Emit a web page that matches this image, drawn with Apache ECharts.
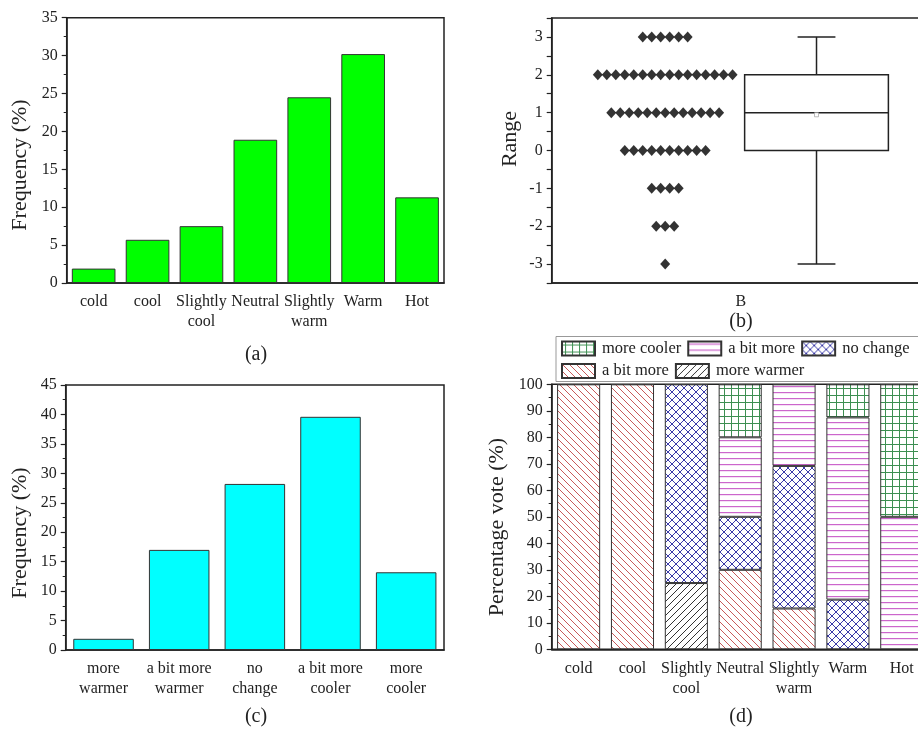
<!DOCTYPE html>
<html>
<head>
<meta charset="utf-8">
<script src="https://cdn.jsdelivr.net/npm/echarts@6/dist/echarts.min.js"></script>
<style>html,body{margin:0;padding:0;background:#fff;}#main{width:918px;height:729px;}</style>
</head>
<body>
<div id="main"></div>
<script>
// ---------- data ----------
const sensationCats = ['cold', 'cool', 'Slightly\ncool', 'Neutral', 'Slightly\nwarm', 'Warm', 'Hot'];
const sensationFreq = [1.9, 5.7, 7.5, 18.9, 24.5, 30.2, 11.3];

const rangeValues = [3, 2, 1, 0, -1, -2, -3];
const rangeCounts = [6, 16, 13, 10, 4, 3, 1];
const boxStats = [-3, 0, 1, 2, 3]; // min, Q1, median, Q3, max
const boxCategory = ['B'];

const prefCats = ['more\nwarmer', 'a bit more\nwarmer', 'no\nchange', 'a bit more\ncooler', 'more\ncooler'];
const prefFreq = [1.9, 17.0, 28.2, 39.6, 13.2];

const voteMoreWarmer = [0, 0, 25, 0, 0, 0, 0];
const voteBitWarmer = [100, 100, 0, 30, 15.4, 0, 0];
const voteNoChange = [0, 0, 75, 20, 53.8, 18.75, 0];
const voteBitCooler = [0, 0, 0, 30, 30.8, 68.75, 50];
const voteMoreCooler = [0, 0, 0, 20, 0, 12.5, 50];

const yTicksA = [0, 35, 5];
const yTicksB = [-3.5, 3.5];
const yTicksC = [0, 45, 5];
const yTicksD = [0, 100, 10];

// ---------- style helpers ----------
const FONT = '"Liberation Serif", "DejaVu Serif", serif';
const TXT = '#222';
const AX = '#222';

function makePattern(size, color, draw) {
  const c = document.createElement('canvas');
  c.width = size; c.height = size;
  const ctx = c.getContext('2d');
  ctx.fillStyle = '#fff';
  ctx.fillRect(0, 0, size, size);
  ctx.strokeStyle = color;
  ctx.fillStyle = color;
  ctx.lineWidth = 1;
  draw(ctx, size);
  return { image: c, repeat: 'repeat' };
}
function back(ctx, s) { ctx.beginPath(); for (const o of [-s, 0, s]) { ctx.moveTo(o, 0); ctx.lineTo(o + s, s); } ctx.stroke(); }
function fwd(ctx, s) { ctx.beginPath(); for (const o of [-s, 0, s]) { ctx.moveTo(o, s); ctx.lineTo(o + s, 0); } ctx.stroke(); }

const patBitWarmer = makePattern(7, '#c85a5a', back);
const patMoreWarmer = makePattern(7, '#333333', fwd);
const patNoChange = makePattern(8, '#3a3aa8', (ctx, s) => { back(ctx, s); fwd(ctx, s); });
const patBitCooler = makePattern(6, '#cc66cc', (ctx, s) => { ctx.fillRect(0, 2, s, 1.2); });
const patMoreCooler = makePattern(7, '#3d8f52', (ctx, s) => { ctx.fillRect(0, 3, s, 1); ctx.fillRect(3, 0, 1, s); });

// ---------- derived scatter (dot-plot layout) ----------
const dotCenter = 0.6, dotStep = 0.0475;
const dotData = [];
rangeValues.forEach((v, r) => {
  const n = rangeCounts[r];
  for (let i = 0; i < n; i++) dotData.push([dotCenter + (i - (n - 1) / 2) * dotStep, v]);
});
let sum = 0, cnt = 0;
rangeValues.forEach((v, r) => { sum += v * rangeCounts[r]; cnt += rangeCounts[r]; });
const boxMean = sum / cnt;
const boxX = 1.4, boxHalf = 0.38, capHalf = 0.1;

// ---------- axis builders ----------
function catAxis(grid, data, extra) {
  return Object.assign({
    type: 'category', gridIndex: grid, data: data,
    axisLine: { onZero: false, lineStyle: { color: AX, width: 1.5 } },
    axisTick: { alignWithLabel: true, length: 5, lineStyle: { color: AX, width: 1.2 } },
    axisLabel: { interval: 0, color: TXT, fontFamily: FONT, fontSize: 16, lineHeight: 20, margin: 9 },
    splitLine: { show: false }
  }, extra || {});
}
function valAxis(grid, min, max, interval, extra) {
  return Object.assign({
    type: 'value', gridIndex: grid, min: min, max: max, interval: interval,
    axisLine: { show: true, onZero: false, lineStyle: { color: AX, width: 1.5 } },
    axisTick: { show: true, length: 5, lineStyle: { color: AX, width: 1.2 } },
    minorTick: { show: true, splitNumber: 2, length: 3, lineStyle: { color: AX, width: 1 } },
    axisLabel: { color: TXT, fontFamily: FONT, fontSize: 16, margin: 9 },
    splitLine: { show: false }, minorSplitLine: { show: false }
  }, extra || {});
}

const gridBase = { show: true, borderColor: AX, borderWidth: 1.5, backgroundColor: 'transparent', outerBoundsMode: 'none', containLabel: false };

function vote(arr) { return arr.map(v => v === 0 ? '-' : v); }
function voteSeries(name, data, pat) {
  return {
    name: name, type: 'bar', stack: 'd', xAxisIndex: 4, yAxisIndex: 3,
    barCategoryGap: '20%', data: vote(data),
    itemStyle: { color: pat, borderColor: '#333', borderWidth: 1 },
    emphasis: { disabled: true }
  };
}

const legendCommon = {
  icon: 'rect', itemWidth: 33, itemHeight: 14, itemGap: 6, padding: 0, selectedMode: false,
  textStyle: { color: TXT, fontFamily: FONT, fontSize: 16.5, padding: [0, 0, 0, 2] },
  formatter: n => n.indexOf('a bit more') === 0 ? 'a bit more' : n
};

function rotText(x, y, text) {
  return { type: 'text', x: x, y: y, rotation: Math.PI / 2,
    style: { text: text, fill: TXT, font: '22px ' + FONT, textAlign: 'center', textVerticalAlign: 'middle' } };
}
function caption(x, y, text) {
  return { type: 'text', x: x, y: y,
    style: { text: text, fill: TXT, font: '20px ' + FONT, textAlign: 'center', textVerticalAlign: 'middle' } };
}

const option = {
  animation: false,
  backgroundColor: '#fff',
  grid: [
    Object.assign({ left: 66.7, top: 17.7, width: 377.3, height: 265.3 }, gridBase),
    Object.assign({ left: 551.7, top: 18, width: 378.3, height: 265 }, gridBase),
    Object.assign({ left: 65.7, top: 385, width: 378.3, height: 265 }, gridBase),
    Object.assign({ left: 551.7, top: 384.3, width: 377, height: 265 }, gridBase)
  ],
  xAxis: [
    catAxis(0, sensationCats),
    catAxis(1, boxCategory),
    { type: 'value', gridIndex: 1, min: 0, max: 2, show: false },
    catAxis(2, prefCats),
    catAxis(3, sensationCats)
  ],
  yAxis: [
    valAxis(0, yTicksA[0], yTicksA[1], yTicksA[2]),
    valAxis(1, yTicksB[0], yTicksB[1], 0.5, {
      minorTick: { show: false },
      axisLabel: { color: TXT, fontFamily: FONT, fontSize: 16, margin: 9,
        formatter: v => (Math.abs(v - Math.round(v)) < 1e-6 ? String(Math.round(v)) : '') }
    }),
    valAxis(2, yTicksC[0], yTicksC[1], yTicksC[2]),
    valAxis(3, yTicksD[0], yTicksD[1], yTicksD[2])
  ],
  legend: [
    Object.assign({ left: 561, top: 340, data: ['more cooler', 'a bit more cooler', 'no change'] }, legendCommon),
    Object.assign({ left: 561, top: 362.5, data: ['a bit more warmer', 'more warmer'] }, legendCommon)
  ],
  series: [
    { type: 'bar', xAxisIndex: 0, yAxisIndex: 0, data: sensationFreq, barCategoryGap: '19%',
      itemStyle: { color: '#00ff00', borderColor: '#333', borderWidth: 1 } },
    { type: 'scatter', xAxisIndex: 2, yAxisIndex: 1, data: dotData, symbol: 'diamond',
      symbolSize: [10, 11], itemStyle: { color: '#000' } },
    { type: 'custom', xAxisIndex: 2, yAxisIndex: 1,
      data: [[boxX].concat(boxStats).concat([boxMean])],
      encode: { x: 0, y: [1, 2, 3, 4, 5] },
      renderItem: function (params, api) {
        const x = api.value(0);
        const mn = api.value(1), q1 = api.value(2), md = api.value(3), q3 = api.value(4), mx = api.value(5), mean = api.value(6);
        const tl = api.coord([x - boxHalf, q3]);
        const br = api.coord([x + boxHalf, q1]);
        const cTop = api.coord([x, mx]), cBot = api.coord([x, mn]);
        const capL = api.coord([x - capHalf, mx]), capR = api.coord([x + capHalf, mx]);
        const capL2 = api.coord([x - capHalf, mn]), capR2 = api.coord([x + capHalf, mn]);
        const mL = api.coord([x - boxHalf, md]), mR = api.coord([x + boxHalf, md]);
        const meanP = api.coord([x, mean]);
        const ls = { stroke: '#222', lineWidth: 1.5, fill: null };
        return { type: 'group', children: [
          { type: 'line', shape: { x1: cTop[0], y1: cTop[1], x2: cTop[0], y2: tl[1] }, style: ls },
          { type: 'line', shape: { x1: cBot[0], y1: br[1], x2: cBot[0], y2: cBot[1] }, style: ls },
          { type: 'line', shape: { x1: capL[0], y1: capL[1], x2: capR[0], y2: capR[1] }, style: ls },
          { type: 'line', shape: { x1: capL2[0], y1: capL2[1], x2: capR2[0], y2: capR2[1] }, style: ls },
          { type: 'rect', shape: { x: tl[0], y: tl[1], width: br[0] - tl[0], height: br[1] - tl[1] }, style: { stroke: '#222', lineWidth: 1.5, fill: '#fff' } },
          { type: 'line', shape: { x1: mL[0], y1: mL[1], x2: mR[0], y2: mR[1] }, style: ls },
          { type: 'rect', shape: { x: meanP[0] - 2, y: meanP[1] - 2, width: 4, height: 4 }, style: { stroke: '#aaa', lineWidth: 0.8, fill: '#fff' } }
        ] };
      }
    },
    { type: 'bar', xAxisIndex: 3, yAxisIndex: 2, data: prefFreq, barCategoryGap: '20%',
      itemStyle: { color: '#00ffff', borderColor: '#333', borderWidth: 1 } },
    voteSeries('more warmer', voteMoreWarmer, patMoreWarmer),
    voteSeries('a bit more warmer', voteBitWarmer, patBitWarmer),
    voteSeries('no change', voteNoChange, patNoChange),
    voteSeries('a bit more cooler', voteBitCooler, patBitCooler),
    voteSeries('more cooler', voteMoreCooler, patMoreCooler)
  ],
  graphic: [
    rotText(20, 165, 'Frequency (%)'),
    rotText(510, 139, 'Range'),
    rotText(20, 533, 'Frequency (%)'),
    rotText(497, 527, 'Percentage vote (%)'),
    caption(256, 355, '(a)'),
    caption(741, 322, '(b)'),
    caption(256, 717, '(c)'),
    caption(741, 717, '(d)'),
    { type: 'rect', shape: { x: 556, y: 336.5, width: 400, height: 45 }, style: { fill: null, stroke: '#999', lineWidth: 1 }, z: -1 }
  ]
};

const chart = echarts.init(document.getElementById('main'), null, { renderer: 'canvas' });
chart.setOption(option);
</script>
</body>
</html>
